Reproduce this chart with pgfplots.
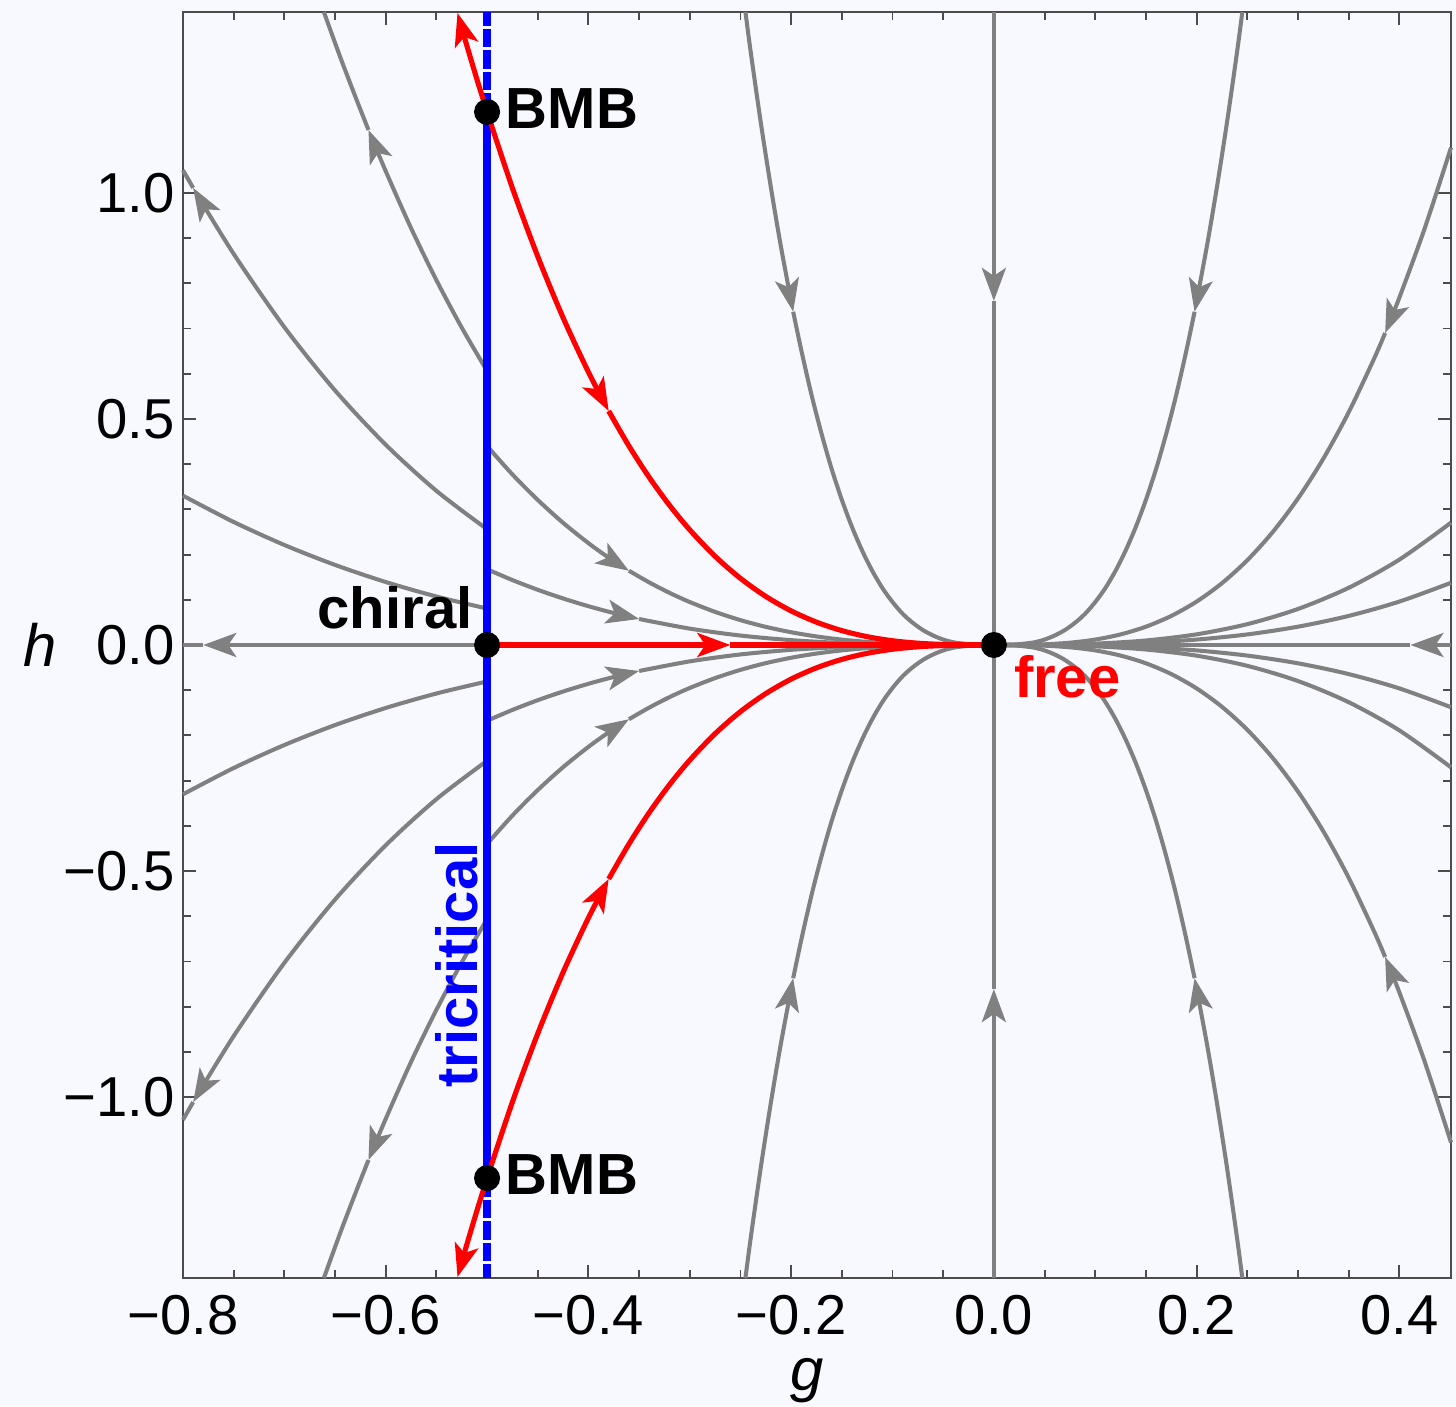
\documentclass[border=0pt]{standalone}
\usepackage{fontspec}
\setmainfont{Liberation Sans}
\usepackage{pgfplots}
\pgfplotsset{compat=1.18}
\usetikzlibrary{arrows.meta}
\definecolor{bgc}{RGB}{247,249,254}
\definecolor{mgray}{RGB}{128,128,128}
\begin{document}
\begin{tikzpicture}[
  ga/.style={-{Stealth[length=0.33cm,width=0.24cm,inset=0.08cm]}},
  gl/.style={mgray, line width=1.15pt, smooth},
  rl/.style={red, line width=1.45pt, smooth},
]
\fill[bgc] (-1.83,-1.28) rectangle (12.73,12.78);
\path[use as bounding box] (-1.83,-1.28) rectangle (12.73,12.78);
\begin{axis}[
  at={(0,0)}, anchor=south west,
  width=12.68cm, height=12.66cm, scale only axis,
  xmin=-0.8, xmax=0.451, ymin=-1.4, ymax=1.4,
  clip=false,
  axis line style={black!70, line width=0.6pt},
  tick style={black!70, line width=0.55pt},
  major tick length=0.13cm, minor tick length=0.08cm,
  xtick={-0.8,-0.6,-0.4,-0.2,0,0.2,0.4},
  xticklabels={−0.8,−0.6,−0.4,−0.2,0.0,0.2,0.4},
  ytick={-1,-0.5,0,0.5,1},
  yticklabels={−1.0,−0.5,0.0,0.5,1.0},
  minor x tick num=3, minor y tick num=4,
  ticklabel style={font=\fontsize{16}{19}\selectfont, inner sep=0pt},
  xticklabel style={anchor=north, yshift=-0.17cm},
  yticklabel style={anchor=east, xshift=-0.08cm},
]
% ---------------- gray streams, left of tricritical line ----------------
% C = 4.85 (upper / lower)
\addplot[gl, ga] coordinates {(-0.5,0.606) (-0.525,0.702) (-0.55,0.807) (-0.575,0.922) (-0.6,1.048) (-0.617,1.139)};
\addplot[gl] coordinates {(-0.617,1.139) (-0.63,1.213) (-0.645,1.301) (-0.661,1.400)};
\addplot[gl, ga] coordinates {(-0.5,-0.606) (-0.525,-0.702) (-0.55,-0.807) (-0.575,-0.922) (-0.6,-1.048) (-0.617,-1.139)};
\addplot[gl] coordinates {(-0.617,-1.139) (-0.63,-1.213) (-0.645,-1.301) (-0.661,-1.400)};
% C = 2.05
\addplot[gl, ga] coordinates {(-0.5,0.256) (-0.55,0.341) (-0.6,0.443) (-0.65,0.563) (-0.7,0.703) (-0.75,0.865) (-0.79,1.011)};
\addplot[gl] coordinates {(-0.79,1.011) (-0.8,1.050)};
\addplot[gl, ga] coordinates {(-0.5,-0.256) (-0.55,-0.341) (-0.6,-0.443) (-0.65,-0.563) (-0.7,-0.703) (-0.75,-0.865) (-0.79,-1.011)};
\addplot[gl] coordinates {(-0.79,-1.011) (-0.8,-1.050)};
% C = 0.645
\addplot[gl] coordinates {(-0.5,0.0806) (-0.55,0.1073) (-0.6,0.1393) (-0.65,0.1771) (-0.7,0.2212) (-0.75,0.2721) (-0.8,0.3302)};
\addplot[gl] coordinates {(-0.5,-0.0806) (-0.55,-0.1073) (-0.6,-0.1393) (-0.65,-0.1771) (-0.7,-0.2212) (-0.75,-0.2721) (-0.8,-0.3302)};
% h = 0, left
\addplot[gl, ga] coordinates {(-0.5,0) (-0.78,0)};
\addplot[gl] coordinates {(-0.78,0) (-0.8,0)};
% ---------------- gray streams between tricritical line and free ----------------
% C = 3.52
\addplot[gl, ga] coordinates {(-0.5,0.44) (-0.475,0.3772) (-0.45,0.3208) (-0.425,0.2702) (-0.4,0.2253) (-0.38,0.1931) (-0.36,0.1642)};
\addplot[gl] coordinates {(-0.36,0.1642) (-0.34,0.1384) (-0.32,0.1153) (-0.3,0.0950) (-0.275,0.0732) (-0.25,0.0550) (-0.225,0.0401) (-0.2,0.0282) (-0.175,0.0189) (-0.15,0.0119) (-0.125,0.0069) (-0.1,0.0035) (-0.075,0.0015) (-0.05,0.0004) (0,0)};
\addplot[gl, ga] coordinates {(-0.5,-0.44) (-0.475,-0.3772) (-0.45,-0.3208) (-0.425,-0.2702) (-0.4,-0.2253) (-0.38,-0.1931) (-0.36,-0.1642)};
\addplot[gl] coordinates {(-0.36,-0.1642) (-0.34,-0.1384) (-0.32,-0.1153) (-0.3,-0.0950) (-0.275,-0.0732) (-0.25,-0.0550) (-0.225,-0.0401) (-0.2,-0.0282) (-0.175,-0.0189) (-0.15,-0.0119) (-0.125,-0.0069) (-0.1,-0.0035) (-0.075,-0.0015) (-0.05,-0.0004) (0,0)};
% C = 1.34
\addplot[gl, ga] coordinates {(-0.5,0.1675) (-0.475,0.1436) (-0.45,0.1221) (-0.425,0.1029) (-0.4,0.0858) (-0.375,0.0707) (-0.35,0.0575)};
\addplot[gl] coordinates {(-0.35,0.0575) (-0.3,0.0362) (-0.25,0.0209) (-0.2,0.0107) (-0.15,0.0045) (-0.1,0.0013) (-0.05,0.0002) (0,0)};
\addplot[gl, ga] coordinates {(-0.5,-0.1675) (-0.475,-0.1436) (-0.45,-0.1221) (-0.425,-0.1029) (-0.4,-0.0858) (-0.375,-0.0707) (-0.35,-0.0575)};
\addplot[gl] coordinates {(-0.35,-0.0575) (-0.3,-0.0362) (-0.25,-0.0209) (-0.2,-0.0107) (-0.15,-0.0045) (-0.1,-0.0013) (-0.05,-0.0002) (0,0)};
% C = 95, left
\addplot[gl, ga] coordinates {(-0.2451,1.4) (-0.24,1.313) (-0.23,1.156) (-0.22,1.012) (-0.21,0.880) (-0.198,0.737)};
\addplot[gl] coordinates {(-0.198,0.737) (-0.19,0.652) (-0.18,0.554) (-0.17,0.467) (-0.16,0.389) (-0.15,0.321) (-0.14,0.261) (-0.13,0.209) (-0.12,0.164) (-0.11,0.126) (-0.1,0.095) (-0.09,0.069) (-0.08,0.049) (-0.07,0.033) (-0.06,0.021) (-0.05,0.012) (-0.04,0.006) (-0.03,0.003) (-0.02,0.001) (0,0)};
\addplot[gl, ga] coordinates {(-0.2451,-1.4) (-0.24,-1.313) (-0.23,-1.156) (-0.22,-1.012) (-0.21,-0.880) (-0.198,-0.737)};
\addplot[gl] coordinates {(-0.198,-0.737) (-0.19,-0.652) (-0.18,-0.554) (-0.17,-0.467) (-0.16,-0.389) (-0.15,-0.321) (-0.14,-0.261) (-0.13,-0.209) (-0.12,-0.164) (-0.11,-0.126) (-0.1,-0.095) (-0.09,-0.069) (-0.08,-0.049) (-0.07,-0.033) (-0.06,-0.021) (-0.05,-0.012) (-0.04,-0.006) (-0.03,-0.003) (-0.02,-0.001) (0,0)};
% g = 0
\addplot[gl, ga] coordinates {(0,1.4) (0,0.761)};
\addplot[gl] coordinates {(0,0.761) (0,0)};
\addplot[gl, ga] coordinates {(0,-1.4) (0,-0.761)};
\addplot[gl] coordinates {(0,-0.761) (0,0)};
% ---------------- gray streams, right of free ----------------
% C = 95, right
\addplot[gl, ga] coordinates {(0.2451,1.4) (0.24,1.313) (0.23,1.156) (0.22,1.012) (0.21,0.880) (0.198,0.737)};
\addplot[gl] coordinates {(0.198,0.737) (0.19,0.652) (0.18,0.554) (0.17,0.467) (0.16,0.389) (0.15,0.321) (0.14,0.261) (0.13,0.209) (0.12,0.164) (0.11,0.126) (0.1,0.095) (0.09,0.069) (0.08,0.049) (0.07,0.033) (0.06,0.021) (0.05,0.012) (0.04,0.006) (0.03,0.003) (0.02,0.001) (0,0)};
\addplot[gl, ga] coordinates {(0.2451,-1.4) (0.24,-1.313) (0.23,-1.156) (0.22,-1.012) (0.21,-0.880) (0.198,-0.737)};
\addplot[gl] coordinates {(0.198,-0.737) (0.19,-0.652) (0.18,-0.554) (0.17,-0.467) (0.16,-0.389) (0.15,-0.321) (0.14,-0.261) (0.13,-0.209) (0.12,-0.164) (0.11,-0.126) (0.1,-0.095) (0.09,-0.069) (0.08,-0.049) (0.07,-0.033) (0.06,-0.021) (0.05,-0.012) (0.04,-0.006) (0.03,-0.003) (0.02,-0.001) (0,0)};
% C = 12
\addplot[gl, ga] coordinates {(0.451,1.100) (0.425,0.9212) (0.4,0.768) (0.386,0.690)};
\addplot[gl] coordinates {(0.386,0.690) (0.375,0.6328) (0.35,0.5145) (0.325,0.4120) (0.3,0.324) (0.275,0.2496) (0.25,0.1875) (0.225,0.1367) (0.2,0.096) (0.175,0.0643) (0.15,0.0405) (0.125,0.0234) (0.1,0.012) (0.075,0.0051) (0.05,0.0015) (0.025,0.0002) (0,0)};
\addplot[gl, ga] coordinates {(0.451,-1.100) (0.425,-0.9212) (0.4,-0.768) (0.386,-0.690)};
\addplot[gl] coordinates {(0.386,-0.690) (0.375,-0.6328) (0.35,-0.5145) (0.325,-0.4120) (0.3,-0.324) (0.275,-0.2496) (0.25,-0.1875) (0.225,-0.1367) (0.2,-0.096) (0.175,-0.0643) (0.15,-0.0405) (0.125,-0.0234) (0.1,-0.012) (0.075,-0.0051) (0.05,-0.0015) (0.025,-0.0002) (0,0)};
% C = 2.95 and C = 1.5
\addplot[gl] coordinates {(0,0) (0.05,0.0004) (0.1,0.003) (0.15,0.010) (0.2,0.0236) (0.25,0.0461) (0.3,0.0797) (0.35,0.1265) (0.4,0.1888) (0.451,0.2706)};
\addplot[gl] coordinates {(0,0) (0.05,-0.0004) (0.1,-0.003) (0.15,-0.010) (0.2,-0.0236) (0.25,-0.0461) (0.3,-0.0797) (0.35,-0.1265) (0.4,-0.1888) (0.451,-0.2706)};
\addplot[gl] coordinates {(0,0) (0.05,0.0002) (0.1,0.0015) (0.15,0.0051) (0.2,0.012) (0.25,0.0234) (0.3,0.0405) (0.35,0.0643) (0.4,0.096) (0.451,0.1376)};
\addplot[gl] coordinates {(0,0) (0.05,-0.0002) (0.1,-0.0015) (0.15,-0.0051) (0.2,-0.012) (0.25,-0.0234) (0.3,-0.0405) (0.35,-0.0643) (0.4,-0.096) (0.451,-0.1376)};
% h = 0, right
\addplot[gl, ga] coordinates {(0.451,0) (0.411,0)};
\addplot[gl] coordinates {(0.411,0) (0,0)};
% ---------------- tricritical line ----------------
\addplot[blue, line width=2.3pt] coordinates {(-0.5,-1.179) (-0.5,1.179)};
\addplot[blue, line width=2.3pt, dash pattern=on 0.185cm off 0.03cm] coordinates {(-0.5,1.179) (-0.5,1.4)};
\addplot[blue, line width=2.3pt, dash pattern=on 0.185cm off 0.03cm] coordinates {(-0.5,-1.179) (-0.5,-1.4)};
% ---------------- separatrices (red) ----------------
\addplot[rl, ga] coordinates {(-0.5,1.179) (-0.51,1.251) (-0.52,1.326) (-0.5292,1.398)};
\addplot[rl, ga] coordinates {(-0.5,-1.179) (-0.51,-1.251) (-0.52,-1.326) (-0.5292,-1.398)};
\addplot[rl, ga] coordinates {(-0.5,1.179) (-0.475,1.0106) (-0.45,0.8593) (-0.425,0.7239) (-0.4,0.6035) (-0.38,0.5174)};
\addplot[rl] coordinates {(-0.38,0.5174) (-0.36,0.440) (-0.34,0.3706) (-0.32,0.3090) (-0.3,0.2546) (-0.275,0.1961) (-0.25,0.1473) (-0.225,0.1074) (-0.2,0.0754) (-0.175,0.0505) (-0.15,0.0318) (-0.125,0.0184) (-0.1,0.0094) (-0.075,0.0040) (-0.05,0.0012) (-0.025,0.0001) (0,0)};
\addplot[rl, ga] coordinates {(-0.5,-1.179) (-0.475,-1.0106) (-0.45,-0.8593) (-0.425,-0.7239) (-0.4,-0.6035) (-0.38,-0.5174)};
\addplot[rl] coordinates {(-0.38,-0.5174) (-0.36,-0.440) (-0.34,-0.3706) (-0.32,-0.3090) (-0.3,-0.2546) (-0.275,-0.1961) (-0.25,-0.1473) (-0.225,-0.1074) (-0.2,-0.0754) (-0.175,-0.0505) (-0.15,-0.0318) (-0.125,-0.0184) (-0.1,-0.0094) (-0.075,-0.0040) (-0.05,-0.0012) (-0.025,-0.0001) (0,0)};
\addplot[rl, ga] coordinates {(-0.5,0) (-0.26,0)};
\addplot[rl] coordinates {(-0.26,0) (0,0)};
% ---------------- fixed points ----------------
\addplot[only marks, mark=*, mark size=3.5pt, black] coordinates {(-0.5,1.179) (-0.5,0) (-0.5,-1.179) (0,0)};
% ---------------- labels ----------------
\node[anchor=base west, inner sep=0pt, font=\fontsize{16.5}{19}\selectfont\bfseries] at (axis cs:-0.4822,1.1416) {BMB};
\node[anchor=base west, inner sep=0pt, font=\fontsize{16.5}{19}\selectfont\bfseries] at (axis cs:-0.4822,-1.2146) {BMB};
\node[anchor=base east, inner sep=0pt, font=\fontsize{16.5}{19}\selectfont\bfseries] at (axis cs:-0.5138,0.0354) {chiral};
\node[anchor=base west, inner sep=0pt, text=red, font=\fontsize{16.5}{19}\selectfont\bfseries] at (axis cs:0.0192,-0.117) {free};
\node[anchor=base west, inner sep=0pt, rotate=90, text=blue, font=\fontsize{16.5}{19}\selectfont\bfseries] at (axis cs:-0.5098,-0.980) {tricritical};
\node[inner sep=0pt, font=\fontsize{17}{20}\selectfont\itshape] at (axis description cs:-0.1128,0.5) {h};
\node[inner sep=0pt, font=\fontsize{17}{20}\selectfont\itshape] at (axis description cs:0.492,-0.081) {g};
\end{axis}
\end{tikzpicture}
\end{document}
